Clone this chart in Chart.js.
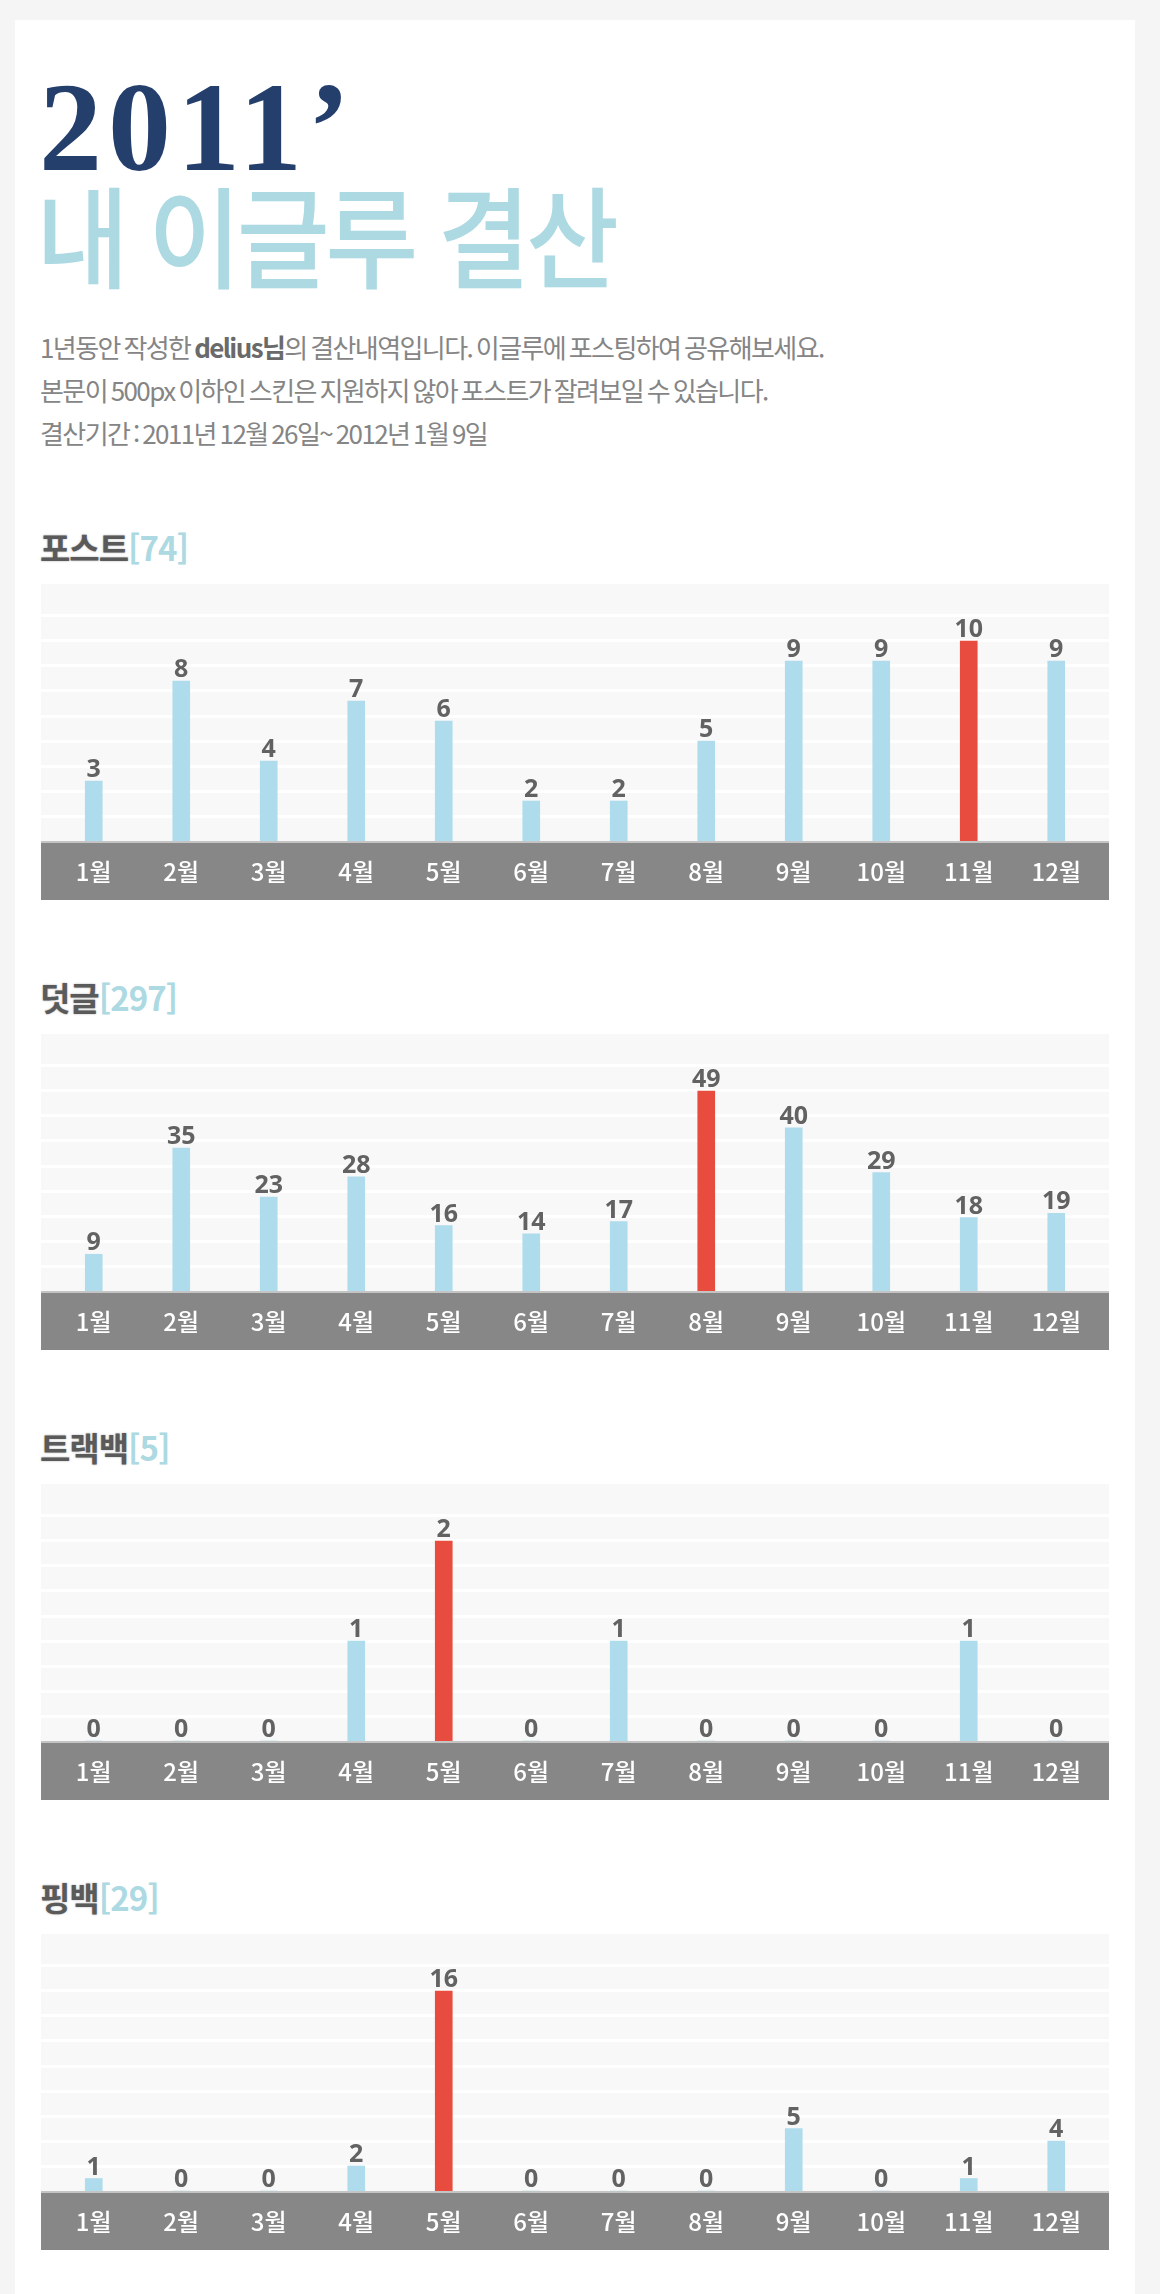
<!DOCTYPE html>
<html lang="ko">
<head>
<meta charset="utf-8">
<script src="https://cdn.jsdelivr.net/npm/chart.js@4.4.1/dist/chart.umd.min.js"></script>
<style>
  html, body { margin: 0; padding: 0; }
  body { width: 1160px; height: 2294px; background: #f5f5f5; overflow: hidden; position: relative; font-family: "Noto Sans CJK KR", "Noto Sans", sans-serif; }
  .card { position: absolute; left: 15px; top: 20px; width: 1120px; height: 2300px; background: #fff; }
  .year { position: absolute; left: 39px; top: 65px; font: bold 126px/126px "Liberation Serif", serif; color: #253f6d; letter-spacing: 6px; }
  .headline { position: absolute; left: 36px; top: 177px; font: 500 110px/110px "Noto Sans CJK KR", sans-serif; color: #acd9e2; letter-spacing: -5px; white-space: nowrap; transform: scaleX(0.92); transform-origin: left top; }
  .desc { position: absolute; left: 40px; top: 325px; font: 400 26px/43px "Noto Sans CJK KR", sans-serif; color: #858585; letter-spacing: -1.6px; word-spacing: -2px; white-space: nowrap; }
  .desc b { color: #6a6a6a; font-weight: 700; }
  .sec-title { position: absolute; left: 40px; font: 700 33px/33px "Noto Sans CJK KR", sans-serif; color: #5a5a5a; letter-spacing: -1px; text-shadow: 0 0 2px rgba(90,90,90,0.5); white-space: nowrap; }
  .sec-title span { color: #acd9e2; text-shadow: none; font-weight: 700; letter-spacing: -1px; }
  .chart-box { position: absolute; left: 41px; width: 1068px; height: 316px; }
</style>
</head>
<body>
<div class="card"></div>
<div class="year">2011’</div>
<div class="headline">내 이글루 결산</div>
<div class="desc">
  1년동안 작성한 <b>delius님</b>의 결산내역입니다. 이글루에 포스팅하여 공유해보세요.<br>
  본문이 500px 이하인 스킨은 지원하지 않아 포스트가 잘려보일 수 있습니다.<br>
  결산기간 : 2011년 12월 26일~ 2012년 1월 9일
</div>
<script>
const months = ['1월', '2월', '3월', '4월', '5월', '6월', '7월', '8월', '9월', '10월', '11월', '12월']

const postCounts = [3, 8, 4, 7, 6, 2, 2, 5, 9, 9, 10, 9]
const commentCounts = [9, 35, 23, 28, 16, 14, 17, 49, 40, 29, 18, 19]
const trackbackCounts = [0, 0, 0, 1, 2, 0, 1, 0, 0, 0, 1, 0]
const pingbackCounts = [1, 0, 0, 2, 16, 0, 0, 0, 5, 0, 1, 4]

const sectionNames = ['포스트', '덧글', '트랙백', '핑백']
const sectionSeries = [postCounts, commentCounts, trackbackCounts, pingbackCounts]

const BLUE = '#aedcec'
const RED = '#e84c3e'

// plot background, axis band, grid and value labels
const decorPlugin = {
  id: 'decor',
  beforeDraw(chart) {
    const { ctx, chartArea, width, height } = chart
    ctx.save()
    ctx.fillStyle = '#f8f8f8'
    ctx.fillRect(0, 0, width, chartArea.bottom)
    ctx.fillStyle = '#878787'
    ctx.fillRect(0, chartArea.bottom, width, height - chartArea.bottom)
    ctx.fillStyle = '#c4c4c4'
    ctx.fillRect(0, chartArea.bottom, width, 2)

    const y = chart.scales.y
    const step = y.max * 25.1 / (chartArea.bottom - chartArea.top)
    ctx.strokeStyle = '#ffffff'
    ctx.lineWidth = 3
    for (let k = 1; k <= 9; k++) {
      const py = Math.round(y.getPixelForValue(k * step)) + 0.5
      ctx.beginPath()
      ctx.moveTo(0, py)
      ctx.lineTo(width, py)
      ctx.stroke()
    }
    ctx.restore()
  },
  afterDatasetsDraw(chart) {
    const { ctx } = chart
    const meta = chart.getDatasetMeta(0)
    const values = chart.data.datasets[0].data
    ctx.save()
    ctx.font = 'bold 25px "Noto Sans", sans-serif'
    ctx.fillStyle = '#626262'
    ctx.textAlign = 'center'
    ctx.textBaseline = 'alphabetic'
    meta.data.forEach((bar, i) => {
      ctx.fillText(String(values[i]), bar.x, bar.y - 4)
    })
    ctx.restore()
  }
}

function buildSection(index) {
  const top = 531 + index * 450
  const values = sectionSeries[index]
  const total = values.reduce((a, b) => a + b, 0)
  const maxValue = Math.max(...values)

  const title = document.createElement('div')
  title.className = 'sec-title'
  title.style.top = top + 'px'
  title.innerHTML = `${sectionNames[index]}<span>[${total}]</span>`
  document.body.appendChild(title)

  const box = document.createElement('div')
  box.className = 'chart-box'
  box.style.top = (top + 53) + 'px'
  const canvas = document.createElement('canvas')
  box.appendChild(canvas)
  document.body.appendChild(box)

  new Chart(canvas.getContext('2d'), {
    type: 'bar',
    data: {
      labels: months,
      datasets: [{
        data: values,
        backgroundColor: values.map(v => v === maxValue ? RED : BLUE),
        barThickness: 17,
        borderWidth: 0
      }]
    },
    options: {
      responsive: true,
      maintainAspectRatio: false,
      animation: false,
      layout: { padding: { left: 9, right: 9, top: 0, bottom: 0 } },
      plugins: { legend: { display: false }, tooltip: { enabled: false } },
      scales: {
        x: {
          grid: { display: false, drawTicks: false },
          border: { display: false },
          ticks: {
            color: '#ffffff',
            padding: 16,
            font: { family: '"Noto Sans CJK KR", sans-serif', size: 24, weight: 500 }
          },
          afterFit(scale) { scale.height = 59 }
        },
        y: {
          min: 0,
          max: maxValue * 257 / 200,
          grid: { display: false },
          border: { display: false },
          ticks: { display: false },
          afterFit(scale) { scale.width = 0 }
        }
      }
    },
    plugins: [decorPlugin]
  })
}

sectionNames.forEach((_name, i) => buildSection(i))
</script>
</body>
</html>
